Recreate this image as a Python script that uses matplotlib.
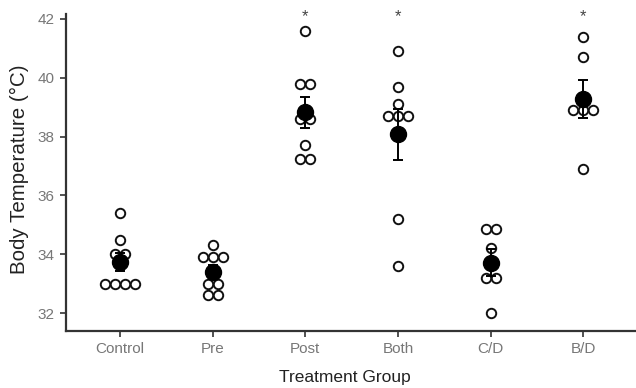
import numpy as np
import matplotlib
matplotlib.use("Agg")
import matplotlib.pyplot as plt

plt.rcParams['font.family'] = ['Liberation Sans', 'DejaVu Sans']

categories = ["Control", "Pre", "Post", "Both", "C/D", "B/D"]
control = [35.4, 34.5, 34.0, 34.0, 33.0, 33.0, 33.0, 33.0]
pre = [34.3, 33.9, 33.9, 33.9, 33.0, 33.0, 32.6, 32.6]
post = [41.6, 39.8, 39.8, 38.6, 38.6, 37.7, 37.25, 37.25]
both = [40.9, 39.7, 39.1, 38.7, 38.7, 38.7, 35.2, 33.6]
cd = [34.85, 34.85, 34.2, 33.2, 33.2, 32.0]
bd = [41.4, 40.7, 38.9, 38.9, 38.9, 36.9]
groups = [control, pre, post, both, cd, bd]
significant = [False, False, True, True, False, True]
yticks = [32, 34, 36, 38, 40, 42]

fig = plt.figure(figsize=(6.36, 3.88), dpi=100)
ax = fig.add_axes([66/636, 57/388, 570/636, 317/388])

xs = np.arange(1, len(categories) + 1)
spacing = 0.107
axis_color = '#333333'
for x, vals, sig in zip(xs, groups, significant):
    vals = np.array(vals, dtype=float)
    uniq = []
    for v in vals:
        if v not in uniq:
            uniq.append(v)
    for u in uniq:
        n = int(np.sum(vals == u))
        offs = (np.arange(n) - (n - 1) / 2) * spacing
        ax.plot(x + offs, [u] * n, linestyle='none', marker='o', markersize=6.8,
                markerfacecolor='white', markeredgecolor='#111111', markeredgewidth=1.4, zorder=2)
    m = vals.mean()
    se = vals.std(ddof=1) / np.sqrt(len(vals))
    ax.errorbar([x], [m], yerr=[se], fmt='none', ecolor='black', elinewidth=1.4,
                capsize=3.8, capthick=1.4, zorder=3)
    ax.plot([x], [m], marker='o', markersize=11.5, color='black', zorder=4, linestyle='none')
    if sig:
        ax.text(x, 42.07, '*', ha='center', va='center', fontsize=12, color='#444444')

ax.set_xlim(0.417, 6.57)
ax.set_ylim(31.39, 42.17)
ax.set_xticks(xs)
ax.set_xticklabels(categories)
ax.set_yticks(yticks)
for s in ['top', 'right']:
    ax.spines[s].set_visible(False)
for s in ['left', 'bottom']:
    ax.spines[s].set_color(axis_color)
    ax.spines[s].set_linewidth(1.6)
ax.tick_params(axis='both', direction='out', length=4, width=1.2, color=axis_color,
               labelsize=11, labelcolor='#777777', pad=4)
ax.set_xlabel('Treatment Group', fontsize=12.5, color='#222222')
ax.set_ylabel('Body Temperature (°C)', fontsize=14.8, color='#222222')
ax.xaxis.set_label_coords((345 - 66) / 570, (331 - 370) / 317)
ax.yaxis.set_label_coords((29 - 66) / 570, (331 - 169) / 317)

fig.savefig('out.png', dpi=100)
